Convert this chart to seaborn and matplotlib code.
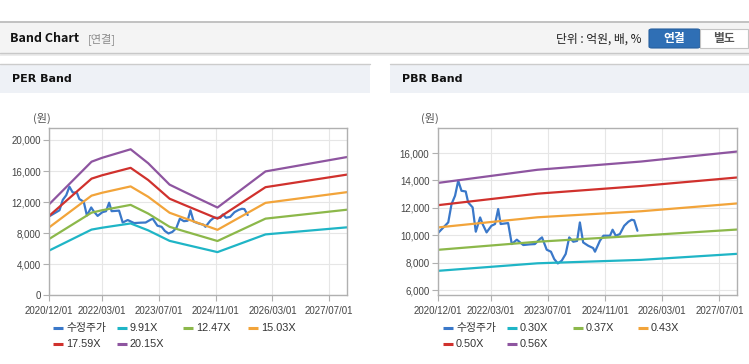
import pandas as pd
import numpy as np
import matplotlib.pyplot as plt
from matplotlib.patches import Rectangle, FancyBboxPatch
import seaborn as sns

# ---- data ----
price_dates = [
    '2020-12-01', '2021-02-01', '2021-03-01', '2021-03-29', '2021-04-28', '2021-05-25',
    '2021-06-22', '2021-07-28', '2021-08-18', '2021-09-25', '2021-10-22', '2021-11-28',
    '2021-12-19', '2022-01-22', '2022-03-04', '2022-04-04', '2022-05-01', '2022-05-22',
    '2022-07-25', '2022-08-25', '2022-10-07', '2022-12-01', '2023-01-28', '2023-03-10',
    '2023-04-22', '2023-05-10', '2023-06-19', '2023-07-25', '2023-08-22', '2023-09-22',
    '2023-10-25', '2023-11-28', '2023-12-28', '2024-02-01', '2024-03-04', '2024-03-28',
    '2024-04-25', '2024-06-07', '2024-07-19', '2024-08-04', '2024-09-15', '2024-10-15',
    '2024-11-13', '2024-12-10', '2025-01-01', '2025-01-28', '2025-03-04', '2025-04-10',
    '2025-05-16', '2025-06-13', '2025-07-04', '2025-08-01',
]
price_values = [
    10150, 10700, 10950, 12280, 12890, 13980,
    13250, 13200, 12400, 12040, 10270, 11310,
    10830, 10220, 10700, 10830, 11920, 10830,
    10900, 9370, 9690, 9300, 9350, 9370,
    9740, 9855, 8960, 8815, 8280, 7960,
    8160, 8650, 9855, 9540, 9600, 10945,
    9490, 9250, 9080, 8815, 9615, 9980,
    9980, 9980, 10415, 9980, 10100, 10700,
    11000, 11140, 11100, 10340,
]

per_dates = ['2020-12-01', '2021-12-01', '2022-03-01', '2022-11-01', '2023-04-01',
             '2023-10-01', '2024-02-01', '2024-11-15', '2026-01-01', '2027-12-01']
per_991 = [5750, 8460, 8700, 9250, 8360, 7010, 6570, 5560, 7840, 8750]
per_1247 = [7240, 10640, 10950, 11640, 10520, 8820, 8260, 6990, 9870, 11020]
per_1503 = [8730, 12830, 13200, 14020, 12680, 10630, 9960, 8430, 11900, 13280]
per_1759 = [10210, 15020, 15450, 16410, 14840, 12440, 11660, 9870, 13920, 15540]
per_2015 = [11700, 17200, 17700, 18800, 17000, 14250, 13350, 11300, 15950, 17800]
per_labels = ['9.91X', '12.47X', '15.03X', '17.59X', '20.15X']

pbr_dates = ['2020-12-01', '2023-04-01', '2025-09-01', '2027-12-01']
pbr_030 = [7420, 7970, 8220, 8660]
pbr_037 = [8950, 9540, 9990, 10430]
pbr_043 = [10580, 11320, 11760, 12330]
pbr_050 = [12200, 13040, 13600, 14220]
pbr_056 = [13820, 14780, 15380, 16110]
pbr_labels = ['0.30X', '0.37X', '0.43X', '0.50X', '0.56X']

x_ticks = ['2020/12/01', '2022/03/01', '2023/07/01', '2024/11/01', '2026/03/01', '2027/07/01']

line_colors = ['#3a78c9', '#1fb5c6', '#8cb84a', '#f2a43a', '#d0312d', '#8e55a0']

sns.set_theme(style='white')
plt.rcParams['font.family'] = ['Liberation Sans', 'Noto Sans CJK KR', 'DejaVu Sans']

W, H = 749, 364
fig = plt.figure(figsize=(W / 100, H / 100), dpi=100)
fig.patch.set_facecolor('white')


def fx(px):
    return px / W


def fy(py):
    return 1 - py / H


def frect(x0, y0, x1, y1, **kw):
    fig.patches.append(Rectangle((fx(x0), fy(y1)), fx(x1) - fx(x0), fy(y0) - fy(y1),
                                 transform=fig.transFigure, **kw))


def hline(x0, x1, y, **kw):
    fig.add_artist(plt.Line2D([fx(x0), fx(x1)], [fy(y), fy(y)], **kw))


# top bar
frect(0, 22, W, 53, facecolor='#f4f4f4', edgecolor='none')
frect(0, 53, W, 56, facecolor='#ececec', edgecolor='none')
hline(0, W, 22, color='#b8b8b8', lw=1.2)
hline(0, W, 53, color='#c8c8c8', lw=1)
fig.text(fx(10), fy(39), 'Band Chart', fontsize=9, fontweight='bold',
         family=['Noto Sans CJK KR'], va='center', color='#111111')
fig.text(fx(88), fy(39), '[연결]', fontsize=8, family=['Noto Sans CJK KR'],
         va='center', color='#8a8a8a')
fig.text(fx(642), fy(39), '단위 : 억원, 배, %', fontsize=8.5, family=['Noto Sans CJK KR'],
         va='center', ha='right', color='#222222')
fig.patches.append(FancyBboxPatch((fx(649), fy(48)), fx(700) - fx(649), fy(29) - fy(48),
                                  boxstyle='round,pad=0,rounding_size=0.004',
                                  transform=fig.transFigure, facecolor='#2f6fb5',
                                  edgecolor='#27609f', lw=0.8))
frect(700, 29, 748, 48, facecolor='white', edgecolor='#c4c4c4', lw=0.8)
fig.text(fx(674.5), fy(38.5), '연결', fontsize=8.5, fontweight='bold',
         family=['Noto Sans CJK KR'], ha='center', va='center', color='white')
fig.text(fx(724), fy(38.5), '별도', fontsize=8.5, fontweight='bold',
         family=['Noto Sans CJK KR'], ha='center', va='center', color='#555555')

# panel headers
for x0, x1, title in [(0, 370, 'PER Band'), (390, W, 'PBR Band')]:
    frect(x0, 64, x1, 93, facecolor='#eef1f6', edgecolor='none')
    hline(x0, x1, 64, color='#cccccc', lw=1)
    fig.text(fx(x0 + 12), fy(79), title, fontsize=8, fontweight='bold',
             family=['DejaVu Sans'], va='center', color='#111111')


def band_chart(ax, band_dates, bands, labels, ylim, yticks, left_px):
    frames = [pd.DataFrame({'date': pd.to_datetime(price_dates), 'value': price_values,
                            'series': '수정주가'})]
    for vals, lab in zip(bands, labels):
        frames.append(pd.DataFrame({'date': pd.to_datetime(band_dates), 'value': vals,
                                    'series': lab}))
    df = pd.concat(frames, ignore_index=True)
    order = ['수정주가'] + labels
    sns.lineplot(data=df, x='date', y='value', hue='series', hue_order=order,
                 palette=line_colors, linewidth=1.6, ax=ax, legend=False)

    ax.set_xlim(pd.Timestamp('2020-12-01'), pd.Timestamp('2027-12-01'))
    ax.set_ylim(*ylim)
    ax.set_yticks(yticks)
    ax.set_yticklabels([f'{v:,}' for v in yticks])
    tick_pos = pd.to_datetime([t.replace('/', '-') for t in x_ticks])
    ax.set_xticks(tick_pos)
    ax.set_xticklabels(x_ticks)
    ax.set_xlabel('')
    ax.set_ylabel('')
    ax.grid(True, color='#e6e6e6', lw=0.8)
    ax.set_axisbelow(True)
    for s in ax.spines.values():
        s.set_color('#b0b0b0')
        s.set_linewidth(1)
    ax.tick_params(axis='both', labelsize=7, colors='#b0b0b0', labelcolor='#444444',
                   length=4, width=0.8, direction='out', left=True, bottom=True, pad=2)
    ax.tick_params(axis='x', pad=4)

    # legend laid out in fixed slots, row by row
    slots = [(4, 328), (68, 328), (134, 328), (199, 328), (4, 344), (68, 344)]
    for (dx, yy), name, c in zip(slots, order, line_colors):
        x0 = left_px + dx
        hline(x0, x0 + 10, yy, color=c, lw=2.2, solid_capstyle='butt')
        fig.text(fx(x0 + 13), fy(yy), name, fontsize=7.8, va='center', color='#333333')


ax1 = fig.add_axes([fx(49), fy(295.3), fx(347) - fx(49), fy(128.3) - fy(295.3)])
band_chart(ax1, per_dates, [per_991, per_1247, per_1503, per_1759, per_2015], per_labels,
           (0, 21500), [0, 4000, 8000, 12000, 16000, 20000], 49)
fig.text(fx(33), fy(118), '(원)', fontsize=8, family=['Noto Sans CJK KR'],
         va='center', color='#555555')

ax2 = fig.add_axes([fx(437.7), fy(295.3), fx(737.3) - fx(437.7), fy(128.3) - fy(295.3)])
band_chart(ax2, pbr_dates, [pbr_030, pbr_037, pbr_043, pbr_050, pbr_056], pbr_labels,
           (5640, 17800), [6000, 8000, 10000, 12000, 14000, 16000], 439)
fig.text(fx(421), fy(118), '(원)', fontsize=8, family=['Noto Sans CJK KR'],
         va='center', color='#555555')

fig.savefig('out.png', dpi=100, facecolor='white')
